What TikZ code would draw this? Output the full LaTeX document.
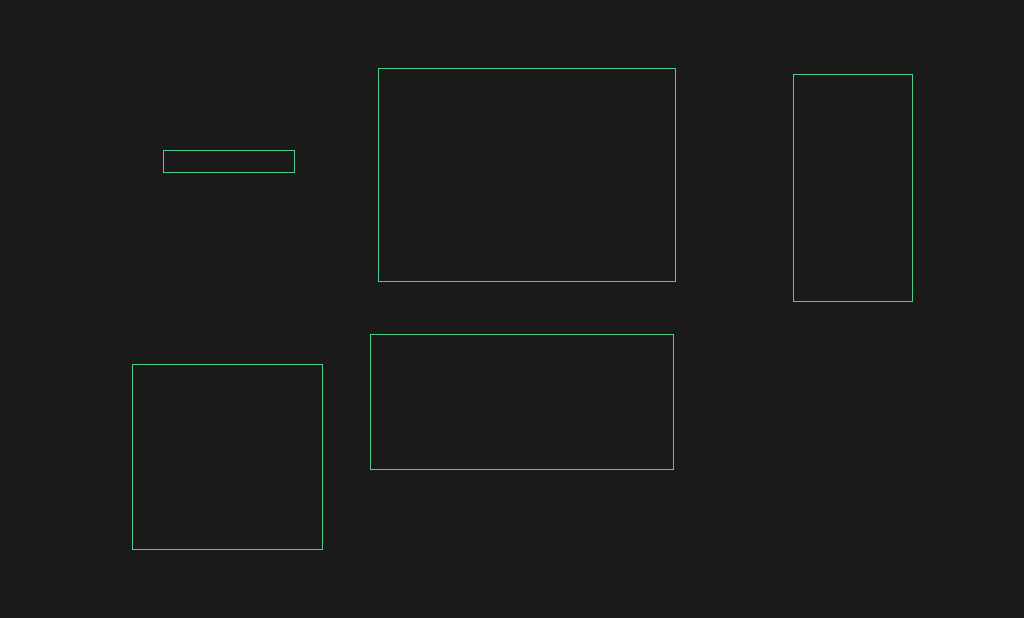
\documentclass[tikz,border=0pt]{standalone}
\definecolor{bg}{HTML}{1A1A1A}
\definecolor{edge}{RGB}{78,205,140}
\begin{document}
\begin{tikzpicture}[x=1pt,y=-1pt,
  box/.style={draw=edge,line width=1pt,inner sep=0pt,outer sep=0pt,anchor=north west,rectangle}]
\fill[bg] (0,0) rectangle (1024,618);
\useasboundingbox (0,0) rectangle (1024,618);
\node[box,minimum width=131pt,minimum height=22pt] (a) at (163.5,150.5) {};
\node[box,minimum width=297pt,minimum height=213pt] (b) at (378.5,68.5) {};
\node[box,minimum width=119pt,minimum height=227pt] (c) at (793.5,74.5) {};
\node[box,minimum width=190pt,minimum height=185pt] (d) at (132.5,364.5) {};
\node[box,minimum width=303pt,minimum height=135pt] (e) at (370.5,334.5) {};
\end{tikzpicture}
\end{document}
